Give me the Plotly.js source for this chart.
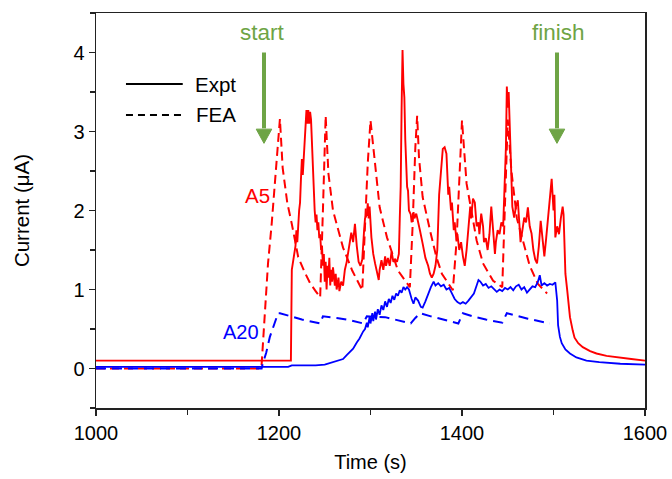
<!DOCTYPE html>
<html>
<head>
<meta charset="utf-8">
<script src="https://cdn.plot.ly/plotly-3.0.1.min.js"></script>
<style>html,body{margin:0;padding:0;background:#fff;}#chart{width:672px;height:479px;}</style>
</head>
<body>
<div id="chart"></div>
<script>
// ---- Data ----
const redExptT = [1000,1212,1213,1214,1216,1218,1219,1220,1222,1223,1224,1225,1226,1227,1228,1229,1230,1231,1232,1233,1234,1235,1236,1237,1238,1239,1240,1241,1242,1243,1244,1245,1246,1247,1248,1249,1250,1251,1252,1253,1254,1255,1256,1257,1258,1259,1261,1262,1263,1265,1266,1268,1270,1272,1274,1276,1278,1279,1281,1283,1285,1287,1289,1291,1293,1294,1296,1297,1298,1299,1301,1303,1305,1307,1309,1310,1312,1314,1316,1317,1319,1321,1323,1325,1327,1329,1331,1332,1333,1334,1335,1336,1337,1338,1339,1340,1341,1342,1344,1345,1347,1348,1350,1352,1354,1357,1360,1363,1365,1367,1369,1371,1373,1375,1377,1379,1381,1383,1385,1386,1388,1389,1391,1392,1394,1395,1397,1399,1401,1403,1405,1407,1409,1410,1412,1414,1416,1418,1419,1421,1423,1424,1426,1428,1430,1432,1434,1436,1437,1439,1441,1443,1445,1446,1448,1449,1450,1451,1452,1453,1454,1455,1457,1459,1461,1462,1464,1466,1468,1470,1472,1474,1476,1478,1480,1482,1484,1486,1488,1490,1492,1494,1496,1498,1499,1500,1501,1502,1504,1506,1508,1509,1510,1511,1512,1513,1515,1518,1521,1523,1527,1532,1540,1547,1558,1569,1585,1600];
const redExptV = [0.1,0.1,0.1,1.25,1.4,1.55,1.75,1.6,2.0,2.1,2.4,2.65,2.45,2.7,2.9,3.05,3.27,3.1,3.27,3.1,3.25,3.15,2.8,2.47,2.2,2.0,1.85,1.95,1.75,1.85,1.65,1.7,1.5,1.55,1.3,1.45,1.1,1.35,1.0,1.3,1.15,1.4,1.05,1.25,1.1,1.28,1.05,1.2,1.0,1.15,0.98,1.1,1.05,1.25,1.35,1.5,1.6,1.72,1.6,1.83,1.55,1.35,1.3,1.38,1.75,1.9,1.95,2.09,1.9,2.05,1.66,1.45,1.33,1.2,1.12,1.25,1.37,1.25,1.42,1.3,1.4,1.3,1.48,1.35,1.38,1.35,1.45,1.9,2.3,3.3,4.03,3.6,3.43,2.9,2.6,2.3,2.25,2.0,1.95,1.85,1.98,1.9,1.96,1.83,1.75,1.58,1.4,1.3,1.2,1.15,1.2,1.3,1.5,2.2,2.5,2.78,2.8,2.72,2.2,2.3,2.0,2.1,1.75,1.85,1.62,1.7,1.5,1.6,1.42,1.3,1.5,1.75,2.05,1.9,2.15,2.1,1.8,1.85,1.7,1.96,1.8,1.6,1.65,1.5,1.7,2.05,1.75,1.45,1.6,1.75,1.7,1.85,1.8,2.2,2.8,3.57,3.3,3.5,3.05,2.6,2.3,2.05,1.91,2.05,2.13,1.95,1.6,1.75,1.91,1.85,2.04,1.8,1.71,1.5,1.38,1.33,1.55,1.87,1.6,1.42,1.65,1.91,2.1,2.4,2.2,2.0,2.2,1.66,1.8,1.7,1.9,2.0,2.05,1.95,1.49,1.2,0.99,0.65,0.48,0.39,0.32,0.27,0.22,0.19,0.16,0.14,0.12,0.1];

const redFeaT = [1000,1180,1181,1185,1188,1192,1196,1199,1201,1204,1209,1214,1221,1228,1234,1240,1245,1248,1251,1254,1259,1263,1270,1280,1291,1294,1297,1300,1305,1310,1318,1330,1343,1346,1349,1351,1353,1357,1365,1372,1378,1390,1394,1398,1400,1405,1416,1423,1434,1444,1447,1450,1454,1460,1467,1474,1483,1493];
const redFeaV = [0,0,0.05,0.73,1.33,1.83,2.42,2.97,3.16,2.54,2.1,1.83,1.41,1.22,1.08,0.98,0.9,2.0,3.2,2.47,2.0,1.83,1.53,1.24,0.99,1.8,2.6,3.14,2.59,2.04,1.66,1.24,1.03,1.8,2.8,3.2,2.67,2.17,1.75,1.41,1.2,0.99,1.6,2.6,3.14,2.34,1.62,1.33,1.11,1.03,2.0,3.15,2.5,1.9,1.6,1.3,1.07,0.95];

const blueExptT = [1000,1210,1214,1240,1250,1258,1265,1270,1274,1278,1281,1285,1288,1292,1294,1296,1297,1299,1300,1302,1303,1305,1306,1308,1310,1312,1314,1316,1318,1320,1322,1324,1326,1328,1330,1332,1334,1336,1338,1340,1342,1345,1347,1349,1352,1355,1357,1360,1363,1366,1369,1371,1374,1377,1380,1383,1386,1389,1392,1395,1398,1401,1404,1407,1410,1413,1416,1418,1420,1423,1426,1429,1432,1435,1438,1441,1444,1447,1450,1453,1456,1459,1462,1465,1468,1471,1474,1477,1480,1483,1485,1487,1490,1493,1496,1499,1502,1504,1505,1507,1509,1513,1518,1525,1536,1550,1573,1600];
const blueExptV = [0.02,0.02,0.04,0.04,0.05,0.08,0.1,0.12,0.17,0.22,0.25,0.33,0.38,0.47,0.5,0.58,0.52,0.65,0.57,0.7,0.6,0.72,0.62,0.75,0.68,0.8,0.74,0.85,0.78,0.88,0.83,0.92,0.87,0.95,0.92,0.99,0.96,1.03,1.0,1.03,1.0,0.88,0.82,0.9,0.86,0.78,0.77,0.85,0.95,1.03,1.1,1.05,1.08,1.04,1.06,1.0,1.02,0.95,0.88,0.84,0.82,0.84,0.82,0.86,0.9,0.95,1.05,1.12,1.1,1.05,1.07,1.02,1.04,1.01,0.97,1.0,0.98,1.02,1.0,1.03,0.99,1.04,1.06,1.0,1.03,0.96,1.0,1.04,1.03,1.1,1.18,1.05,1.08,1.05,1.07,1.06,1.09,0.86,0.55,0.4,0.32,0.24,0.19,0.14,0.1,0.08,0.06,0.05];

const blueFeaT = [1000,1181,1182,1186,1190,1195,1199,1201,1212,1225,1245,1248,1263,1278,1292,1296,1316,1330,1344,1349,1354,1366,1383,1396,1401,1412,1426,1444,1449,1472,1496];
const blueFeaV = [0,0,0.05,0.2,0.4,0.58,0.7,0.7,0.66,0.62,0.57,0.66,0.64,0.61,0.57,0.66,0.65,0.61,0.57,0.64,0.7,0.66,0.61,0.57,0.7,0.66,0.62,0.58,0.7,0.63,0.57];

const xTicks = [1000,1200,1400,1600];
const yTicks = [0,1,2,3,4];

const RED = '#ff0000', BLUE = '#0000ff', GREEN = '#6ea445';
const FONT = 'Liberation Sans, Arial, sans-serif';

const traces = [
  {x: redFeaT, y: redFeaV, mode:'lines', line:{color:RED, width:2, dash:'9px,5px'}, showlegend:false},
  {x: blueFeaT, y: blueFeaV, mode:'lines', line:{color:BLUE, width:2, dash:'10px,6px'}, showlegend:false},
  {x: blueExptT, y: blueExptV, mode:'lines', line:{color:BLUE, width:1.8}, showlegend:false},
  {x: redExptT, y: redExptV, mode:'lines', line:{color:RED, width:1.9}, showlegend:false}
];

function arrow(xc){
  return [
    {type:'line', xref:'x', yref:'y', x0:xc, x1:xc, y0:4.0, y1:3.04, line:{color:GREEN, width:4}},
    {type:'path', xref:'x', yref:'y', path:`M ${xc-8.5} 3.03 L ${xc+8.5} 3.03 L ${xc} 2.85 Z`, fillcolor:GREEN, line:{color:GREEN, width:1}}
  ];
}

const layout = {
  width:672, height:479,
  margin:{l:96, r:27, t:13, b:71},
  paper_bgcolor:'#fff', plot_bgcolor:'#fff',
  font:{family:FONT, size:20, color:'#000'},
  xaxis:{
    range:[1000,1600], tickvals:xTicks, ticktext:xTicks.map(String),
    ticks:'outside', ticklen:6, tickwidth:1.5, tickcolor:'#222',
    minor:{dtick:100, tick0:1000, ticks:'outside', ticklen:5, tickwidth:1.5, tickcolor:'#222'},
    showline:true, linecolor:'#222', linewidth:1.5, mirror:true,
    showgrid:false, zeroline:false,
    tickfont:{size:20},
    title:{text:'Time (s)', font:{size:20}, standoff:12}
  },
  yaxis:{
    range:[-0.5,4.5], tickvals:yTicks, ticktext:yTicks.map(String),
    ticks:'outside', ticklen:6, tickwidth:1.5, tickcolor:'#222',
    minor:{dtick:0.5, tick0:0, ticks:'outside', ticklen:5, tickwidth:1.5, tickcolor:'#222'},
    showline:true, linecolor:'#222', linewidth:1.5, mirror:true,
    showgrid:false, zeroline:false,
    tickfont:{size:20},
    title:{text:'Current (μA)', font:{size:20.5}, standoff:38}
  },
  shapes:[
    {type:'line', xref:'paper', yref:'paper', x0:0.0546, x1:0.158, y0:0.820, y1:0.820, line:{color:'#000', width:2}},
    {type:'line', xref:'paper', yref:'paper', x0:0.0546, x1:0.158, y0:0.742, y1:0.742, line:{color:'#000', width:2, dash:'7px,5px'}},
    ...arrow(1183.6),
    ...arrow(1503.8)
  ],
  annotations:[
    {xref:'paper', yref:'paper', x:0.176, y:0.820, xanchor:'left', yanchor:'middle', text:'Expt', showarrow:false, font:{size:20.5, color:'#000'}},
    {xref:'paper', yref:'paper', x:0.178, y:0.742, xanchor:'left', yanchor:'middle', text:'FEA', showarrow:false, font:{size:20.5, color:'#000'}},
    {xref:'x', yref:'y', x:1182, y:4.25, text:'start', showarrow:false, font:{size:22.5, color:GREEN}},
    {xref:'x', yref:'y', x:1505, y:4.25, text:'finish', showarrow:false, font:{size:22.5, color:GREEN}},
    {xref:'x', yref:'y', x:1177, y:2.19, text:'A5', showarrow:false, font:{size:20.5, color:RED}},
    {xref:'x', yref:'y', x:1158.5, y:0.46, text:'A20', showarrow:false, font:{size:20, color:BLUE}}
  ]
};

Plotly.newPlot('chart', traces, layout, {staticPlot:true, displayModeBar:false});
</script>
</body>
</html>
